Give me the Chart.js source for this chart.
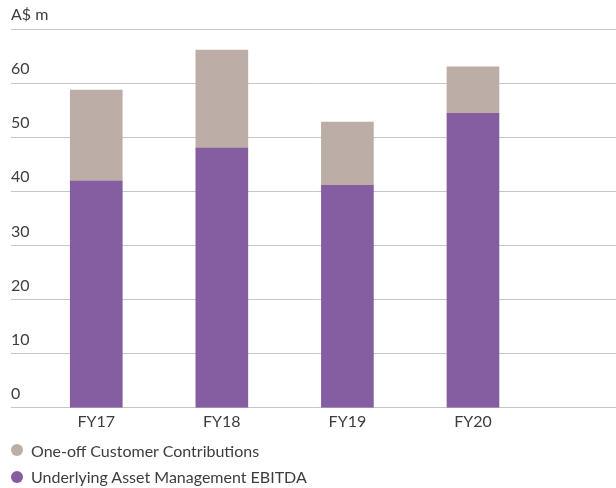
<!DOCTYPE html>
<html>
<head>
<meta charset="utf-8">
<script src="https://cdn.jsdelivr.net/npm/chart.js@4/dist/chart.umd.min.js"></script>
<style>
  html, body { margin: 0; padding: 0; background: #ffffff; }
  #wrap { position: relative; width: 616px; height: 488px; overflow: hidden; }
  #legend { position: absolute; left: 11px; top: 437px; font-family: Lato, "Open Sans", sans-serif; font-size: 16px; color: #3d3d3d; }
  .item { display: flex; align-items: center; height: 26.6px; white-space: nowrap; }
  .dot { width: 12px; height: 12px; border-radius: 50%; margin-right: 8px; flex: none; }
</style>
</head>
<body>
<div id="wrap">
  <canvas id="c" width="616" height="488"></canvas>
  <div id="legend"></div>
</div>
<script>
const categories = ['FY17', 'FY18', 'FY19', 'FY20'];
const underlyingEBITDA = [41.9, 48.0, 41.1, 54.4];
const oneOffContributions = [16.8, 18.1, 11.7, 8.6];
const yTickValues = [0, 10, 20, 30, 40, 50, 60, 70];
const yTickLabels = ['0', '10', '20', '30', '40', '50', '60', 'A$ m'];
const seriesNames = ['Underlying Asset Management EBITDA', 'One-off Customer Contributions'];
const seriesColors = ['#855ea2', '#bcaea7'];

const textColor = '#3d3d3d';
const font = { family: 'Lato, "Open Sans", sans-serif', size: 16 };

const toPoints = arr => arr.map((v, i) => ({ x: i, y: v }));

const chart = new Chart(document.getElementById('c'), {
  type: 'bar',
  data: {
    datasets: [
      { label: seriesNames[0], data: toPoints(underlyingEBITDA), backgroundColor: seriesColors[0], borderWidth: 0, barThickness: 52 },
      { label: seriesNames[1], data: toPoints(oneOffContributions), backgroundColor: seriesColors[1], borderWidth: 0, barThickness: 52 }
    ]
  },
  options: {
    responsive: false,
    animation: false,
    layout: { padding: { left: 11, right: 0, top: 29, bottom: 57 } },
    plugins: { legend: { display: false }, tooltip: { enabled: false } },
    scales: {
      x: {
        type: 'linear',
        stacked: true,
        offset: false,
        min: -0.679,
        max: 4.139,
        grid: { display: false, drawTicks: true, tickLength: 4, offset: false },
        border: { display: false },
        ticks: {
          stepSize: 1,
          autoSkip: false,
          maxRotation: 0,
          padding: 0,
          color: textColor,
          font: font,
          callback: v => (Number.isInteger(v) && categories[v] !== undefined) ? categories[v] : ''
        }
      },
      y: {
        stacked: true,
        min: 0,
        max: 70,
        grid: { color: '#c6c6c6', lineWidth: 1, drawTicks: false },
        border: { display: false },
        afterBuildTicks: s => { s.ticks = yTickValues.map(v => ({ value: v })); },
        ticks: {
          mirror: true,
          padding: 0,
          labelOffset: -14,
          color: textColor,
          font: font,
          callback: v => yTickLabels[yTickValues.indexOf(v)]
        }
      }
    }
  }
});

const legend = document.getElementById('legend');
[1, 0].forEach(i => {
  const ds = chart.data.datasets[i];
  const row = document.createElement('div');
  row.className = 'item';
  const dot = document.createElement('span');
  dot.className = 'dot';
  dot.style.background = ds.backgroundColor;
  const txt = document.createElement('span');
  txt.textContent = ds.label;
  row.appendChild(dot);
  row.appendChild(txt);
  legend.appendChild(row);
});
</script>
</body>
</html>
